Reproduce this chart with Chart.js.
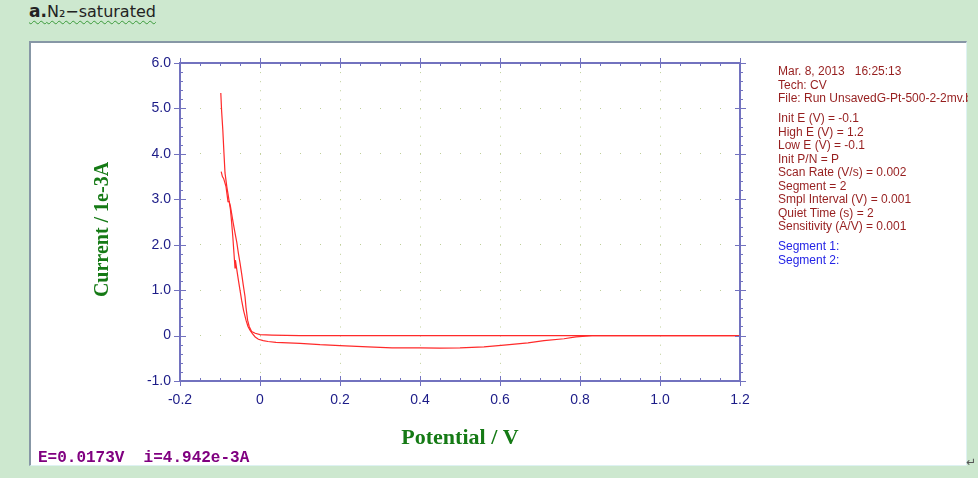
<!DOCTYPE html>
<html>
<head>
<meta charset="utf-8">
<script src="https://cdn.jsdelivr.net/npm/chart.js@4.4.1/dist/chart.umd.min.js"></script>
<style>
  body { margin: 0; width: 978px; height: 478px; overflow: hidden; position: relative; background: #cde8cf; }
  #title { position: absolute; left: 29px; top: 1px; color: #222; white-space: nowrap;
           text-decoration: underline wavy #3a9a3a; text-decoration-thickness: 1px; text-underline-offset: 3px; }
  #title b { font: bold 17px "DejaVu Sans", sans-serif; }
  #title span { font: 16px "DejaVu Sans", sans-serif; }
  #panel { position: absolute; left: 29px; top: 41px; width: 938px; height: 425px; box-sizing: border-box;
           background: #fff; border-left: 2px solid #8797a6; border-top: 2px solid #8797a6;
           border-right: 1px solid #def2f2; border-bottom: 1px solid #def2f2; }
  #cv { position: absolute; left: 0; top: 0; }
  #info { position: absolute; left: 778px; top: 65px; width: 190px; overflow: hidden;
          font: 12px "Liberation Sans", Arial, sans-serif; line-height: 13.5px; color: #961e1e; white-space: pre; }
  #info .grp { margin-top: 6.5px; }
  #info .blue { color: #2424e6; }
  #status { position: absolute; left: 38px; top: 449px; font: bold 16px "Liberation Mono", "Courier New", monospace;
            color: #800080; white-space: pre; }
  #ret { position: absolute; left: 966px; top: 455px; font: 12px "DejaVu Sans", sans-serif; color: #555; }
</style>
</head>
<body>
<div id="title"><b>a.</b><span>N₂−saturated</span></div>
<div id="panel"></div>
<canvas id="cv" width="978" height="478"></canvas>
<div id="info"><div>Mar. 8, 2013   16:25:13</div><div>Tech: CV</div><div>File: Run UnsavedG-Pt-500-2-2mv.bin</div><div class="grp"><div>Init E (V) = -0.1</div><div>High E (V) = 1.2</div><div>Low E (V) = -0.1</div><div>Init P/N = P</div><div>Scan Rate (V/s) = 0.002</div><div>Segment = 2</div><div>Smpl Interval (V) = 0.001</div><div>Quiet Time (s) = 2</div><div>Sensitivity (A/V) = 0.001</div></div><div class="grp blue"><div>Segment 1:</div><div>Segment 2:</div></div></div>
<div id="status">E=0.0173V  i=4.942e-3A</div>
<div id="ret">↵</div>
<script>
// tick positions and labels
const potentialTicks = [-0.2, 0, 0.2, 0.4, 0.6, 0.8, 1.0, 1.2];
const potentialLabels = ['-0.2', '0', '0.2', '0.4', '0.6', '0.8', '1.0', '1.2'];
const currentTicks = [-1, 0, 1, 2, 3, 4, 5, 6];
const currentLabels = ['-1.0', '0', '1.0', '2.0', '3.0', '4.0', '5.0', '6.0'];

// segment 1: forward scan (V, 1e-3 A)
const fwdPotential = [-0.097, -0.094, -0.091, -0.089, -0.085, -0.080, -0.077, -0.074, -0.071, -0.068, -0.065, -0.0625, -0.0615, -0.058, -0.054, -0.050, -0.046, -0.041, -0.035, -0.030, -0.025, -0.019, -0.012, -0.004, 0.008, 0.020, 0.040, 0.070, 0.100, 0.150, 0.200, 0.270, 0.330, 0.400, 0.450, 0.500, 0.560, 0.610, 0.670, 0.710, 0.760, 0.790, 0.830, 0.930, 1.200];
const fwdCurrent = [3.61, 3.50, 3.46, 3.40, 3.28, 2.95, 2.95, 2.78, 2.50, 2.18, 1.80, 1.49, 1.66, 1.45, 1.22, 1.00, 0.78, 0.55, 0.34, 0.20, 0.12, 0.04, -0.03, -0.08, -0.11, -0.13, -0.15, -0.16, -0.17, -0.20, -0.22, -0.25, -0.27, -0.27, -0.275, -0.27, -0.25, -0.21, -0.16, -0.11, -0.07, -0.03, 0.00, 0.00, 0.00];

// segment 2: reverse scan
const revPotential = [1.200, 0.930, 0.500, 0.100, 0.030, 0.000, -0.012, -0.021, -0.027, -0.031, -0.035, -0.0375, -0.042, -0.046, -0.050, -0.054, -0.058, -0.0625, -0.067, -0.071, -0.074, -0.077, -0.080, -0.083, -0.0875, -0.090, -0.093, -0.096, -0.098];
const revCurrent = [0.00, 0.00, 0.00, 0.00, 0.01, 0.02, 0.05, 0.09, 0.20, 0.34, 0.62, 0.86, 1.12, 1.37, 1.60, 1.81, 2.05, 2.26, 2.48, 2.69, 2.85, 2.95, 3.12, 3.28, 3.58, 4.00, 4.53, 4.95, 5.34];

const axisColor = '#7272bf';
const gridColor = '#bfcf98';
const tickColor = '#1c1c88';
const titleColor = '#157a15';

const pts = (xs, ys) => xs.map((v, i) => ({x: v, y: ys[i]}));

// axis frame with major/minor tick marks
const frame = {
    id: 'frame',
    afterDatasetsDraw(chart) {
        const {ctx, chartArea: a, scales: {x, y}} = chart;
        const line = (x1, y1, x2, y2) => { ctx.beginPath(); ctx.moveTo(x1, y1); ctx.lineTo(x2, y2); ctx.stroke(); };
        ctx.save();
        ctx.strokeStyle = axisColor;
        ctx.lineWidth = 1;
        for (let i = 0; i <= 28; i++) {
            const px = Math.round(x.getPixelForValue(-0.2 + i * 0.05)) + 0.5;
            const big = i % 4 === 0;
            line(px, a.bottom + (big ? 5 : 0), px, a.bottom - (big ? 5 : 3));
            line(px, a.top - (big ? 5 : 0), px, a.top + (big ? 5 : 3));
        }
        for (let i = 0; i <= 35; i++) {
            const py = Math.round(y.getPixelForValue(-1 + i * 0.2)) + 0.5;
            const big = i % 5 === 0;
            line(a.left - (big ? 6 : 0), py, a.left + (big ? 6 : 3), py);
            line(a.right - (big ? 5 : 0), py, a.right + (big ? 6 : 3), py);
        }
        ctx.lineWidth = 2;
        ctx.strokeRect(a.left, a.top, a.right - a.left, a.bottom - a.top);
        ctx.restore();
    }
};

Chart.defaults.font.family = '"Liberation Sans", Arial, sans-serif';

new Chart(document.getElementById('cv'), {
    type: 'scatter',
    data: {
        datasets: [{
            label: 'Segment 1',
            data: pts(fwdPotential, fwdCurrent),
            showLine: true,
            borderColor: '#ff2a2a',
            borderWidth: 1.2,
            pointRadius: 0,
            tension: 0
        }, {
            label: 'Segment 2',
            data: pts(revPotential, revCurrent),
            showLine: true,
            borderColor: '#ff2a2a',
            borderWidth: 1.2,
            pointRadius: 0,
            tension: 0
        }]
    },
    options: {
        responsive: false,
        animation: false,
        layout: { padding: { left: 91, right: 238, top: 63, bottom: 26 } },
        plugins: { legend: { display: false }, tooltip: { enabled: false } },
        scales: {
            x: {
                type: 'linear',
                min: -0.2,
                max: 1.2,
                afterBuildTicks: s => { s.ticks = potentialTicks.map(v => ({value: v})); },
                afterFit: s => { s.height = 71; },
                ticks: {
                    color: tickColor,
                    font: { size: 14 },
                    padding: 11,
                    maxRotation: 0,
                    callback: (v, i) => potentialLabels[i]
                },
                grid: {
                    drawTicks: false,
                    color: c => (c.index === 0 || c.index === potentialTicks.length - 1) ? 'rgba(0,0,0,0)' : gridColor
                },
                border: { display: false, dash: [1, 8.086] },
                title: {
                    display: true,
                    text: 'Potential / V',
                    color: titleColor,
                    padding: 0,
                    font: { family: '"Liberation Serif", "Times New Roman", serif', size: 22, weight: 'bold' }
                }
            },
            y: {
                type: 'linear',
                min: -1,
                max: 6,
                afterBuildTicks: s => { s.ticks = currentTicks.map(v => ({value: v})); },
                afterFit: s => { s.width = 89; },
                ticks: {
                    color: tickColor,
                    font: { size: 14 },
                    padding: 9,
                    callback: (v, i) => currentLabels[i]
                },
                grid: {
                    drawTicks: false,
                    color: c => (c.index === 0 || c.index === currentTicks.length - 1) ? 'rgba(0,0,0,0)' : gridColor
                },
                border: { display: false, dash: [1, 19] },
                title: {
                    display: true,
                    // trailing spaces nudge the rotated title down to where the original sits
                    text: 'Current / 1e-3A   ',
                    color: titleColor,
                    padding: 0,
                    font: { family: '"Liberation Serif", "Times New Roman", serif', size: 20, weight: 'bold' }
                }
            }
        }
    },
    plugins: [frame]
});
</script>
</body>
</html>
